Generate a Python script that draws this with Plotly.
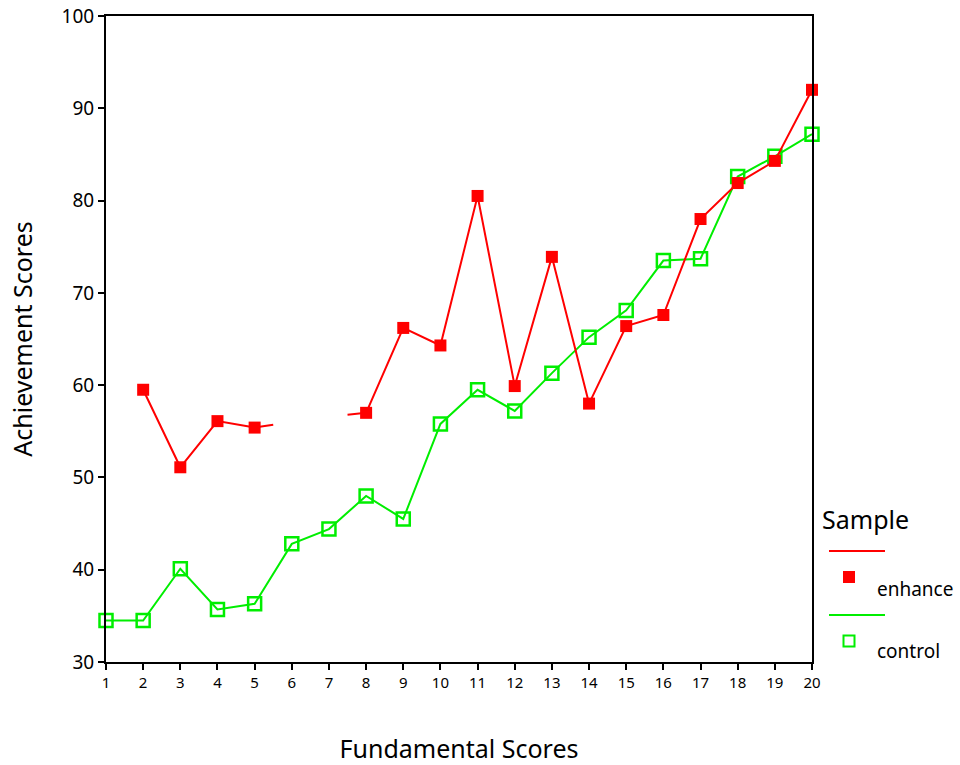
import plotly.graph_objects as go

# Data
fundamental = list(range(1, 21))
enhance = [None, 59.5, 51.1, 56.1, 55.4, None, None, 57.0, 66.2, 64.3,
           80.5, 59.9, 73.9, 58.0, 66.4, 67.6, 78.0, 81.9, 84.3, 92.0]
control = [34.5, 34.5, 40.1, 35.7, 36.3, 42.8, 44.4, 48.0, 45.5, 55.8,
           59.5, 57.2, 61.3, 65.2, 68.1, 73.5, 73.7, 82.6, 84.8, 87.2]
# partial line stubs drawn toward the missing enhance values
enhance_stub_x = [5, 5.5, None, 7.5, 8]
enhance_stub_y = [55.4, 55.7, None, 56.8, 57.0]

RED = "#ff0000"
GREEN = "#00ee00"
FONT = "Noto Sans"

fig = go.Figure()
fig.add_trace(go.Scatter(x=enhance_stub_x, y=enhance_stub_y, mode="lines",
                         line=dict(color=RED, width=2), showlegend=False,
                         hoverinfo="skip"))
fig.add_trace(go.Scatter(x=fundamental, y=control, mode="lines+markers", name="control",
                         line=dict(color=GREEN, width=2),
                         marker=dict(symbol="square-open", size=13, color=GREEN,
                                     line=dict(width=2.5, color=GREEN)),
                         showlegend=False, cliponaxis=False))
fig.add_trace(go.Scatter(x=fundamental, y=enhance, mode="lines+markers", name="enhance",
                         line=dict(color=RED, width=2),
                         marker=dict(symbol="square", size=12, color=RED),
                         showlegend=False, cliponaxis=False))


def px2paper(px, py):
    return (px - 106) / (812 - 106), (662 - py) / (662 - 16)


# Custom legend (SPSS style)
sx, sy = px2paper(820, 519)
fig.add_annotation(x=sx, y=sy, xref="paper", yref="paper", text="Sample",
                   showarrow=False, font=dict(size=25, family=FONT, color="black"),
                   xanchor="left", yanchor="middle")

for (ly, my, ty, col, sym, label) in [(551, 577, 589, RED, "fill", "enhance"),
                                      (615, 641, 651, GREEN, "open", "control")]:
    x0, y0 = px2paper(829, ly)
    x1, _ = px2paper(885, ly)
    fig.add_shape(type="line", xref="paper", yref="paper", x0=x0, x1=x1, y0=y0, y1=y0,
                  line=dict(color=col, width=2))
    if sym == "fill":
        a0, b0 = px2paper(843, my - 6)
        a1, b1 = px2paper(855, my + 6)
        fig.add_shape(type="rect", xref="paper", yref="paper", x0=a0, x1=a1, y0=b1, y1=b0,
                      fillcolor=col, line=dict(color=col, width=0))
    else:
        a0, b0 = px2paper(843.5, my - 5.5)
        a1, b1 = px2paper(854.5, my + 5.5)
        fig.add_shape(type="rect", xref="paper", yref="paper", x0=a0, x1=a1, y0=b1, y1=b0,
                      fillcolor="rgba(0,0,0,0)", line=dict(color=col, width=2))
    tx, tyy = px2paper(875, ty)
    fig.add_annotation(x=tx, y=tyy, xref="paper", yref="paper", text=label,
                       showarrow=False, font=dict(size=19, family=FONT, color="black"),
                       xanchor="left", yanchor="middle")

fig.update_layout(
    width=960, height=765,
    margin=dict(l=106, r=148, t=16, b=103, autoexpand=False),
    paper_bgcolor="white", plot_bgcolor="white",
    font=dict(family=FONT, color="black"),
    showlegend=False,
)
fig.update_xaxes(range=[1, 20], tickmode="array", tickvals=fundamental,
                 ticks="outside", ticklen=6, tickwidth=2, tickcolor="black",
                 showline=True, linewidth=2, linecolor="black", mirror=True,
                 showgrid=False, zeroline=False,
                 tickfont=dict(size=15, family=FONT),
                 title=dict(text="Fundamental Scores", font=dict(size=25, family=FONT),
                            standoff=50))
fig.update_yaxes(range=[30, 100], tickmode="array", tickvals=list(range(30, 101, 10)),
                 ticks="outside", ticklen=6, tickwidth=2, tickcolor="black",
                 showline=True, linewidth=2, linecolor="black", mirror=True,
                 showgrid=False, zeroline=False,
                 tickfont=dict(size=19, family=FONT),
                 title=dict(text="Achievement Scores", font=dict(size=25, family=FONT),
                            standoff=22))

fig.write_html("out.html", config={"displayModeBar": False},
               post_script="document.body.style.margin='0';document.body.style.overflow='hidden';")
